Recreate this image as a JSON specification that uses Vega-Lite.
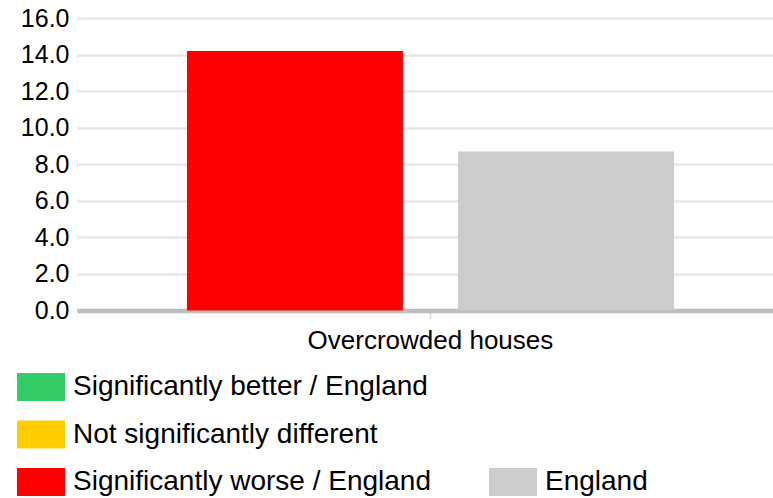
{
  "$schema": "https://vega.github.io/schema/vega-lite/v6.json",
  "autosize": {"type": "none"},
  "width": 696,
  "height": 292.5,
  "padding": {"left": 77, "top": 18, "right": 0, "bottom": 187.5},
  "background": "white",
  "config": {
    "view": {"stroke": null},
    "font": "Liberation Sans",
    "axis": {"labelFont": "Liberation Sans", "labelColor": "#000000", "labelFontSize": 25}
  },
  "data": {
    "values": [
      {"category": "Overcrowded houses", "series": "Area", "value": 14.2, "sig": "Significantly worse / England"},
      {"category": "Overcrowded houses", "series": "England", "value": 8.7, "sig": "England"}
    ]
  },
  "mark": {"type": "bar"},
  "encoding": {
    "x": {
      "field": "category",
      "type": "nominal",
      "scale": {"paddingInner": 0, "paddingOuter": 0.2146, "align": 0.526},
      "axis": {
        "title": null,
        "labelAngle": 0,
        "labelFontSize": 26,
        "labelLimit": 500,
        "domainColor": "#bcbcbc",
        "domainWidth": 4.5,
        "tickColor": "#dddddd",
        "tickWidth": 2,
        "tickSize": 8,
        "labelPadding": 9
      }
    },
    "xOffset": {
      "field": "series",
      "type": "nominal",
      "sort": ["Area", "England"],
      "scale": {"paddingInner": 0.203, "paddingOuter": 0}
    },
    "y": {
      "field": "value",
      "type": "quantitative",
      "scale": {"domain": [0, 16], "nice": false},
      "axis": {
        "title": null,
        "values": [0, 2, 4, 6, 8, 10, 12, 14, 16],
        "format": ".1f",
        "domain": false,
        "ticks": false,
        "labelPadding": 8,
        "gridColor": "#e6e6e6",
        "gridWidth": 2.5
      }
    },
    "color": {
      "field": "sig",
      "type": "nominal",
      "scale": {
        "domain": ["Significantly better / England", "Not significantly different", "Significantly worse / England", "_a", "_b", "England"],
        "range": ["#33cc66", "#ffcc00", "#ff0000", "rgba(0,0,0,0)", "rgba(0,0,0,0)", "#cccccc"]
      },
      "legend": {
        "title": null,
        "orient": "none",
        "legendX": -60,
        "legendY": 345,
        "direction": "vertical",
        "columns": 2,
        "columnPadding": 58,
        "rowPadding": 9.5,
        "padding": 0,
        "symbolType": "M-1,-0.58H1V0.58H-1Z",
        "symbolSize": 2304,
        "symbolStrokeWidth": 0,
        "symbolOpacity": 1,
        "labelOffset": 8,
        "labelFont": "Liberation Sans",
        "labelFontSize": 28,
        "labelColor": "#000000",
        "labelLimit": 500,
        "labelExpr": "indexof(datum.label, '_') == 0 ? '' : datum.label"
      }
    }
  }
}
